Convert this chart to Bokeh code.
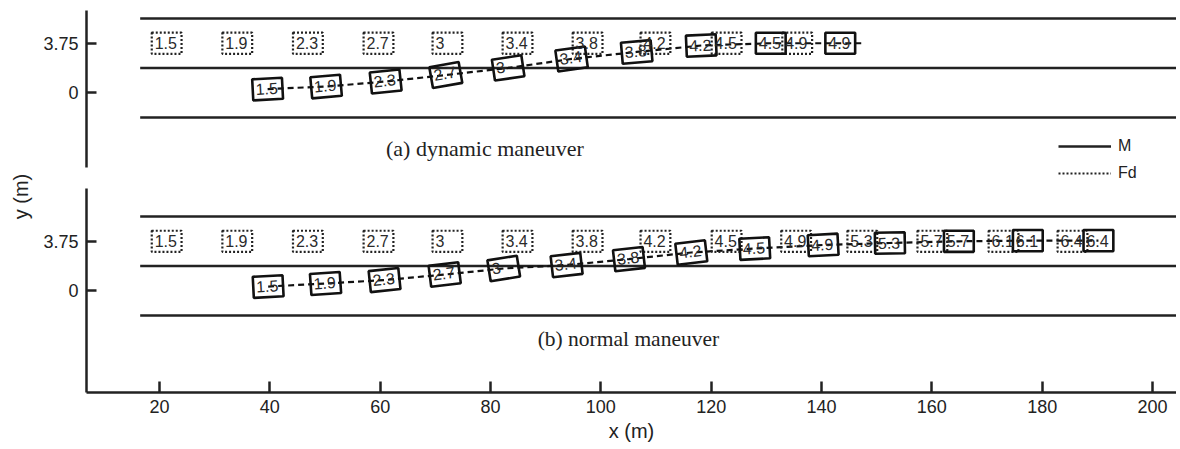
import math
from bokeh.plotting import figure
from bokeh.models import Range1d, FixedTicker, Label, Legend, LegendItem
from bokeh.layouts import row, column
from bokeh.embed import file_html
from bokeh.resources import INLINE
from bokeh.core.properties import value

# ---------------- data ----------------
# lane markings (m)
lane_lines_y = [-1.875, 1.875, 5.625]
road_x_start = 16.5
road_x_end = 205.0

x_ticks = [20, 40, 60, 80, 100, 120, 140, 160, 180, 200]
y_ticks = [0, 3.75]

# (a) dynamic maneuver
a_fd_t = ["1.5", "1.9", "2.3", "2.7", "3", "3.4", "3.8", "4.2", "4.5", "4.9"]
a_fd_x = [21.3, 34.1, 46.9, 59.7, 72.2, 84.9, 97.6, 109.9, 122.8, 135.6]
a_fd_y = [3.75, 3.75, 3.75, 3.75, 3.75, 3.75, 3.75, 3.75, 3.75, 3.75]
a_m_t = ["1.5", "1.9", "2.3", "2.7", "3", "3.4", "3.8", "4.2", "4.5", "4.9"]
a_m_x = [39.6, 50.2, 61.0, 71.9, 83.2, 94.7, 106.5, 118.2, 130.8, 143.4]
a_m_y = [0.28, 0.47, 0.85, 1.34, 1.88, 2.56, 3.09, 3.58, 3.75, 3.75]
a_m_heading = [3, 5, 6, 10, 8.5, 8, 5, 2.5, 0, 0]  # degrees
a_traj_x = [39.6, 50.2, 61.0, 71.9, 83.2, 94.7, 106.5, 118.2, 130.8, 143.4, 147.6]
a_traj_y = [0.28, 0.47, 0.85, 1.34, 1.88, 2.56, 3.09, 3.58, 3.75, 3.75, 3.75]

# (b) normal maneuver
b_fd_t = ["1.5", "1.9", "2.3", "2.7", "3", "3.4", "3.8", "4.2", "4.5", "4.9",
          "5.3", "5.7", "6.1", "6.4"]
b_fd_x = [21.3, 34.1, 46.9, 59.7, 72.2, 84.9, 97.6, 109.9, 122.8, 135.4,
          147.4, 160.1, 173.0, 185.5]
b_fd_y = [3.75] * 14
b_m_t = ["1.5", "1.9", "2.3", "2.7", "3", "3.4", "3.8", "4.2", "4.5", "4.9",
         "5.3", "5.7", "6.1", "6.4"]
b_m_x = [39.7, 50.1, 60.8, 71.7, 82.4, 93.8, 105.1, 116.4, 127.9, 140.3,
         152.4, 164.9, 177.4, 190.2]
b_m_y = [0.32, 0.55, 0.81, 1.23, 1.69, 1.95, 2.40, 2.90, 3.20, 3.47,
         3.62, 3.75, 3.8, 3.8]
b_m_heading = [3, 4, 6, 7, 9, 6.5, 6.5, 6.5, 3, 3, 1, 0, 0, 0]
b_traj_x = list(b_m_x)
b_traj_y = list(b_m_y)

# ---------------- styling ----------------
VEH_L = 5.4
VEH_W = 1.6
INK = "#222222"
TICK_FONT = "18px"
BOX_FONT = "16px"

xr = Range1d(6.77, 204.35)


def style_yaxis(p, bounds):
    ax = p.yaxis[0]
    ax.ticker = FixedTicker(ticks=y_ticks)
    ax.bounds = bounds
    ax.major_tick_in = 10
    ax.major_tick_out = 0
    ax.minor_tick_line_color = None
    ax.axis_line_width = 2.5
    ax.axis_line_color = INK
    ax.major_tick_line_width = 2.5
    ax.major_tick_line_color = INK
    ax.major_label_text_font = "Liberation Sans"
    ax.major_label_text_font_size = TICK_FONT
    ax.major_label_text_color = INK
    ax.major_label_standoff = 8


def draw_panel(p, fd_t, fd_x, fd_y, m_t, m_x, m_y, m_head, tr_x, tr_y):
    n = len(lane_lines_y)
    p.segment(x0=[road_x_start] * n, y0=lane_lines_y, x1=[road_x_end] * n,
              y1=lane_lines_y, line_color=INK, line_width=2.5)
    p.line(tr_x, tr_y, line_color="#111111", line_width=2.2, line_dash="6 4")
    p.rect(x=fd_x, y=fd_y, width=VEH_L, height=VEH_W, fill_alpha=0,
           line_color=INK, line_width=2.2, line_dash="2 2")
    ang = [math.radians(a) for a in m_head]
    p.rect(x=m_x, y=m_y, width=VEH_L, height=VEH_W, angle=ang, fill_alpha=0,
           line_color="#111111", line_width=2.6)
    p.text(x=fd_x, y=fd_y, text=fd_t, text_font=value("Liberation Sans"),
           text_font_size=BOX_FONT, text_align="left", text_baseline="middle",
           x_offset=-12, text_color="#2a2a2a")
    p.text(x=m_x, y=m_y, text=m_t, angle=ang, text_font=value("Liberation Sans"),
           text_font_size=BOX_FONT, text_align="left", text_baseline="middle",
           x_offset=-12, text_color="#2a2a2a")


def make_fig(height, yr, bounds, top_border, bottom_border, with_x):
    kw = dict(width=1138, height=height, x_range=xr, y_range=yr,
              output_backend="svg", toolbar_location=None,
              min_border_left=48, min_border_right=0,
              min_border_top=top_border, min_border_bottom=bottom_border,
              background_fill_color="white", border_fill_color="white")
    if not with_x:
        kw["x_axis_location"] = None
    p = figure(**kw)
    p.outline_line_color = None
    p.grid.visible = False
    style_yaxis(p, bounds)
    return p


top = make_fig(188, Range1d(-7.254, 6.23), (-5.66, 6.23), 10, 0, False)
draw_panel(top, a_fd_t, a_fd_x, a_fd_y, a_m_t, a_m_x, a_m_y, a_m_heading,
           a_traj_x, a_traj_y)
top.add_layout(Label(x=79.0, y=-4.22, text="(a) dynamic maneuver",
                     text_font="Liberation Serif", text_font_size="22px",
                     text_align="center", text_baseline="middle",
                     text_color=INK))

m_leg = top.line(x=[float("nan")], y=[float("nan")], line_color=INK, line_width=2.5)
fd_leg = top.line(x=[float("nan")], y=[float("nan")], line_color=INK,
                  line_width=2, line_dash="2 2")
legend = Legend(items=[LegendItem(label="M", renderers=[m_leg]),
                       LegendItem(label="Fd", renderers=[fd_leg])],
                location=(972, 5), glyph_width=53, glyph_height=20,
                label_height=20, label_standoff=7, spacing=7, padding=0,
                margin=0, border_line_color=None, background_fill_alpha=0,
                label_text_font="Liberation Sans", label_text_font_size="16px",
                label_text_color=INK)
top.add_layout(legend)

bot = make_fig(259, Range1d(-7.71, 7.75), (-7.71, 7.75), 0, 55, True)
draw_panel(bot, b_fd_t, b_fd_x, b_fd_y, b_m_t, b_m_x, b_m_y, b_m_heading,
           b_traj_x, b_traj_y)
bot.add_layout(Label(x=105.0, y=-3.62, text="(b) normal maneuver",
                     text_font="Liberation Serif", text_font_size="21.5px",
                     text_align="center", text_baseline="middle",
                     text_color=INK))
xa = bot.xaxis[0]
xa.ticker = FixedTicker(ticks=x_ticks)
xa.major_tick_in = 11
xa.major_tick_out = 0
xa.minor_tick_line_color = None
xa.axis_line_width = 2.5
xa.axis_line_color = INK
xa.major_tick_line_width = 2.5
xa.major_tick_line_color = INK
xa.major_label_text_font = "Liberation Sans"
xa.major_label_text_font_size = TICK_FONT
xa.major_label_text_color = INK
xa.major_label_standoff = 7
xa.axis_label = "x (m)"
xa.axis_label_text_font = "Liberation Sans"
xa.axis_label_text_font_size = "20px"
xa.axis_label_text_font_style = "normal"
xa.axis_label_text_color = INK
xa.axis_label_standoff = 4

lab = figure(width=38, height=447, output_backend="svg", toolbar_location=None,
             x_axis_location=None, y_axis_location=None, min_border=0,
             background_fill_color="white", border_fill_color="white")
lab.outline_line_color = None
lab.grid.visible = False
lab.add_layout(Label(x=20, y=251, x_units="screen", y_units="screen",
                     text="y (m)", angle=math.pi / 2, text_align="center",
                     text_baseline="middle", text_font="Liberation Sans",
                     text_font_size="20px", text_color=INK))

layout = row(lab, column(top, bot))

with open("out.html", "w") as f:
    f.write(file_html(layout, INLINE))
